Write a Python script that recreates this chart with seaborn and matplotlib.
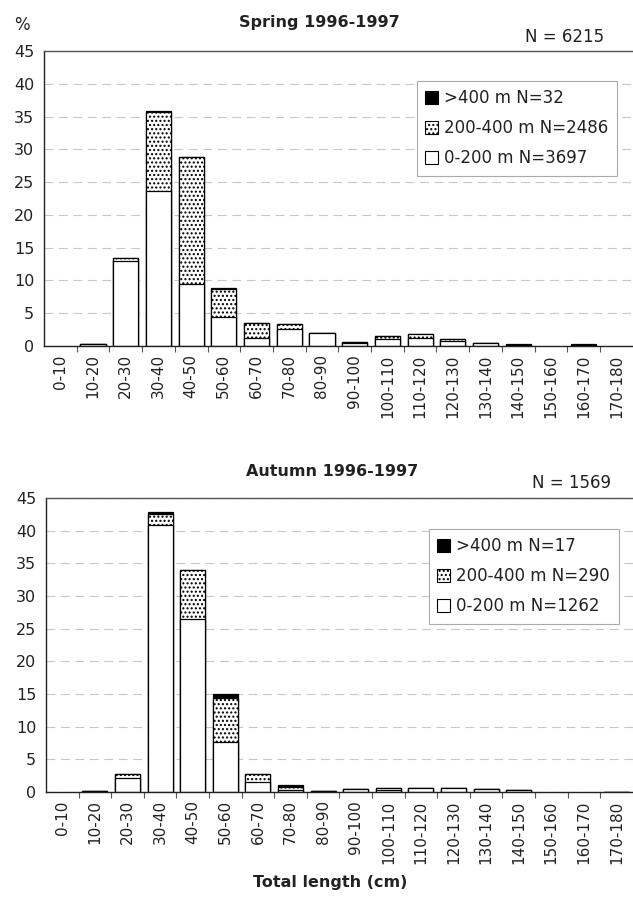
import matplotlib
matplotlib.use("Agg")
import matplotlib.pyplot as plt
from matplotlib.patches import Patch
from matplotlib.ticker import FixedLocator
import seaborn as sns
import pandas as pd
import numpy as np

categories = ["0-10", "10-20", "20-30", "30-40", "40-50", "50-60", "60-70", "70-80",
              "80-90", "90-100", "100-110", "110-120", "120-130", "130-140",
              "140-150", "150-160", "160-170", "170-180"]

# Spring 1996-1997 (% of N = 6215)
spring_0_200   = [0, 0.3, 13.0, 23.7, 9.4, 4.5, 1.3, 2.6, 2.0, 0.5, 1.1, 1.3, 0.7, 0.4, 0.2, 0, 0.2, 0]
spring_200_400 = [0, 0.0, 0.4, 12.0, 19.5, 4.2, 2.2, 0.8, 0.0, 0.1, 0.5, 0.5, 0.4, 0.0, 0.0, 0, 0.0, 0]
spring_400     = [0, 0.0, 0.1, 0.1, 0.0, 0.1, 0.0, 0.0, 0.0, 0.0, 0.0, 0.0, 0.0, 0.1, 0.1, 0, 0.15, 0]

# Autumn 1996-1997 (% of N = 1569)
autumn_0_200   = [0, 0.2, 2.1, 40.8, 26.5, 7.7, 1.5, 0.3, 0.2, 0.4, 0.3, 0.6, 0.6, 0.5, 0.3, 0, 0, 0.05]
autumn_200_400 = [0, 0.0, 0.6, 1.7, 7.5, 6.7, 1.2, 0.5, 0.0, 0.0, 0.3, 0.0, 0.0, 0.0, 0.0, 0, 0, 0]
autumn_400     = [0, 0.0, 0.0, 0.3, 0.0, 0.6, 0.0, 0.2, 0.0, 0.0, 0.0, 0.0, 0.0, 0.0, 0.0, 0, 0, 0]

panels = [
    dict(title="Spring 1996-1997", ntot="N = 6215",
         a=spring_0_200, b=spring_200_400, c=spring_400,
         labels=[">400 m N=32", "200-400 m N=2486", "0-200 m N=3697"],
         rect=[0.0695, 0.6214, 0.9300, 0.3228],
         title_xy=(319, 22), n_xy=(565, 37), pct=True, leg=(417, 81)),
    dict(title="Autumn 1996-1997", ntot="N = 1569",
         a=autumn_0_200, b=autumn_200_400, c=autumn_400,
         labels=[">400 m N=17", "200-400 m N=290", "0-200 m N=1262"],
         rect=[0.0727, 0.1335, 0.9270, 0.3217],
         title_xy=(332, 472), n_xy=(571, 483), pct=False, leg=(429, 529)),
]

sns.set_theme(style="white")
plt.rcParams['font.family'] = ['DejaVu Sans']

W, H = 633, 914
fig = plt.figure(figsize=(W / 100, H / 100), dpi=100)

def fx(px):
    return px / W

def fy(py):
    return 1 - py / H

for p in panels:
    ax = fig.add_axes(p["rect"])
    a = np.array(p["a"]); b = np.array(p["b"]); c = np.array(p["c"])
    df = pd.DataFrame({"cat": categories, "total": a + b + c, "mid": a + b, "low": a})
    common = dict(x="cat", order=categories, width=0.77, edgecolor="black",
                  linewidth=0.9, ax=ax, errorbar=None)
    sns.barplot(data=df, y="total", color="black", **common)
    sns.barplot(data=df, y="mid", color="white", hatch="....", **common)
    sns.barplot(data=df, y="low", color="white", **common)
    for patch in ax.patches:
        patch.set_facecolor(patch.get_facecolor()[:3] + (1.0,))
        if patch.get_height() <= 0:
            patch.set_linewidth(0)
            patch.set_visible(False)
    ax.set_xlim(-0.5, 17.5)
    ax.set_ylim(0, 45)
    ax.set_yticks(range(0, 46, 5))
    ax.set_xlabel("")
    ax.set_ylabel("")
    ax.set_xticks(range(len(categories)))
    ax.set_xticklabels(categories, rotation=90, fontsize=11, color="#222222")
    ax.xaxis.set_minor_locator(FixedLocator(np.arange(0.5, 17.5, 1)))
    ax.tick_params(axis="x", which="major", length=0, pad=6)
    ax.tick_params(axis="x", which="minor", length=4, width=0.8, color="#555555", bottom=True, direction="out")
    ax.tick_params(axis="y", length=0, pad=7, labelsize=11.5, labelcolor="#222222")
    ax.yaxis.grid(True, linestyle=(0, (8, 5)), color="#c8c8c8", linewidth=0.8)
    ax.set_axisbelow(True)
    for s in ["left", "bottom"]:
        ax.spines[s].set_color("#222222")
        ax.spines[s].set_linewidth(1.0)
    ax.spines["top"].set_color("#555555")
    ax.spines["top"].set_linewidth(1.0)
    ax.spines["right"].set_visible(False)

    fig.text(fx(p["title_xy"][0]), fy(p["title_xy"][1]), p["title"], ha="center", va="center",
             fontsize=11.5, fontweight="bold", color="#222222")
    fig.text(fx(p["n_xy"][0]), fy(p["n_xy"][1]), p["ntot"], ha="center", va="center",
             fontsize=12, color="#222222")
    if p["pct"]:
        fig.text(fx(22), fy(25), "%", ha="center", va="center", fontsize=12, color="#222222")

    handles = [Patch(facecolor="black", edgecolor="black", linewidth=0.8),
               Patch(facecolor="white", edgecolor="black", hatch="....", linewidth=0.8),
               Patch(facecolor="white", edgecolor="black", linewidth=0.8)]
    leg = ax.legend(handles, p["labels"], loc="upper left",
                    bbox_to_anchor=(fx(p["leg"][0]), fy(p["leg"][1])),
                    bbox_transform=fig.transFigure, fontsize=12, frameon=True,
                    fancybox=False, edgecolor="#aaaaaa", framealpha=1,
                    handlelength=0.75, handleheight=0.75, handletextpad=0.4,
                    labelspacing=0.72, borderpad=0.5, borderaxespad=0)
    leg.get_frame().set_linewidth(0.8)
    for t in leg.get_texts():
        t.set_color("#222222")

fig.text(fx(330), fy(882), "Total length (cm)", ha="center", va="center",
         fontsize=11.5, fontweight="bold", color="#222222")

fig.savefig("out.png", dpi=100, facecolor="white")
